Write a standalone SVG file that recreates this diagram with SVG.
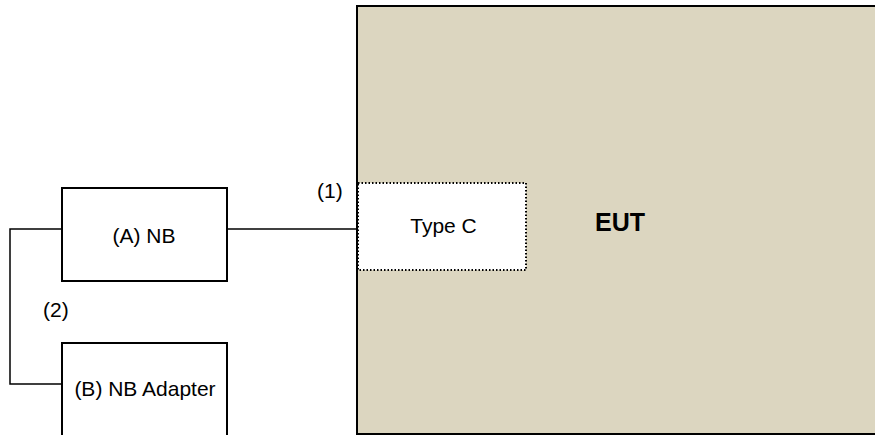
<svg xmlns="http://www.w3.org/2000/svg" width="875" height="435" viewBox="0 0 875 435">
<style>
text{font-family:"Liberation Sans",Arial,sans-serif;font-size:21px;fill:#000}
.box{fill:#fff;stroke:#000;stroke-width:2}
.wire{fill:none;stroke:#000;stroke-width:1.5}
</style>
<rect width="875" height="435" fill="#fff"/>
<g id="eut">
<rect x="357" y="6" width="530" height="428" fill="#DCD6C0" stroke="#000" stroke-width="2"/>
<text x="620" y="231" text-anchor="middle" font-weight="bold" style="font-size:25px">EUT</text>
</g>
<g id="typec">
<rect x="358" y="183" width="168" height="87" fill="#fff" stroke="#000" stroke-width="2" stroke-dasharray="1.5 2"/>
<text x="443.5" y="233" text-anchor="middle">Type C</text>
</g>
<g id="nb">
<rect class="box" x="62" y="188" width="165" height="93"/>
<text x="144" y="243" text-anchor="middle">(A) NB</text>
</g>
<g id="adapter">
<rect class="box" x="62" y="343" width="165" height="100"/>
<text x="145" y="396" text-anchor="middle">(B) NB Adapter</text>
</g>
<g id="connectors">
<path class="wire" d="M227 229H358"/>
<path class="wire" d="M62 229H10V384H62"/>
<text x="317" y="198">(1)</text>
<text x="43" y="317">(2)</text>
</g>
</svg>
